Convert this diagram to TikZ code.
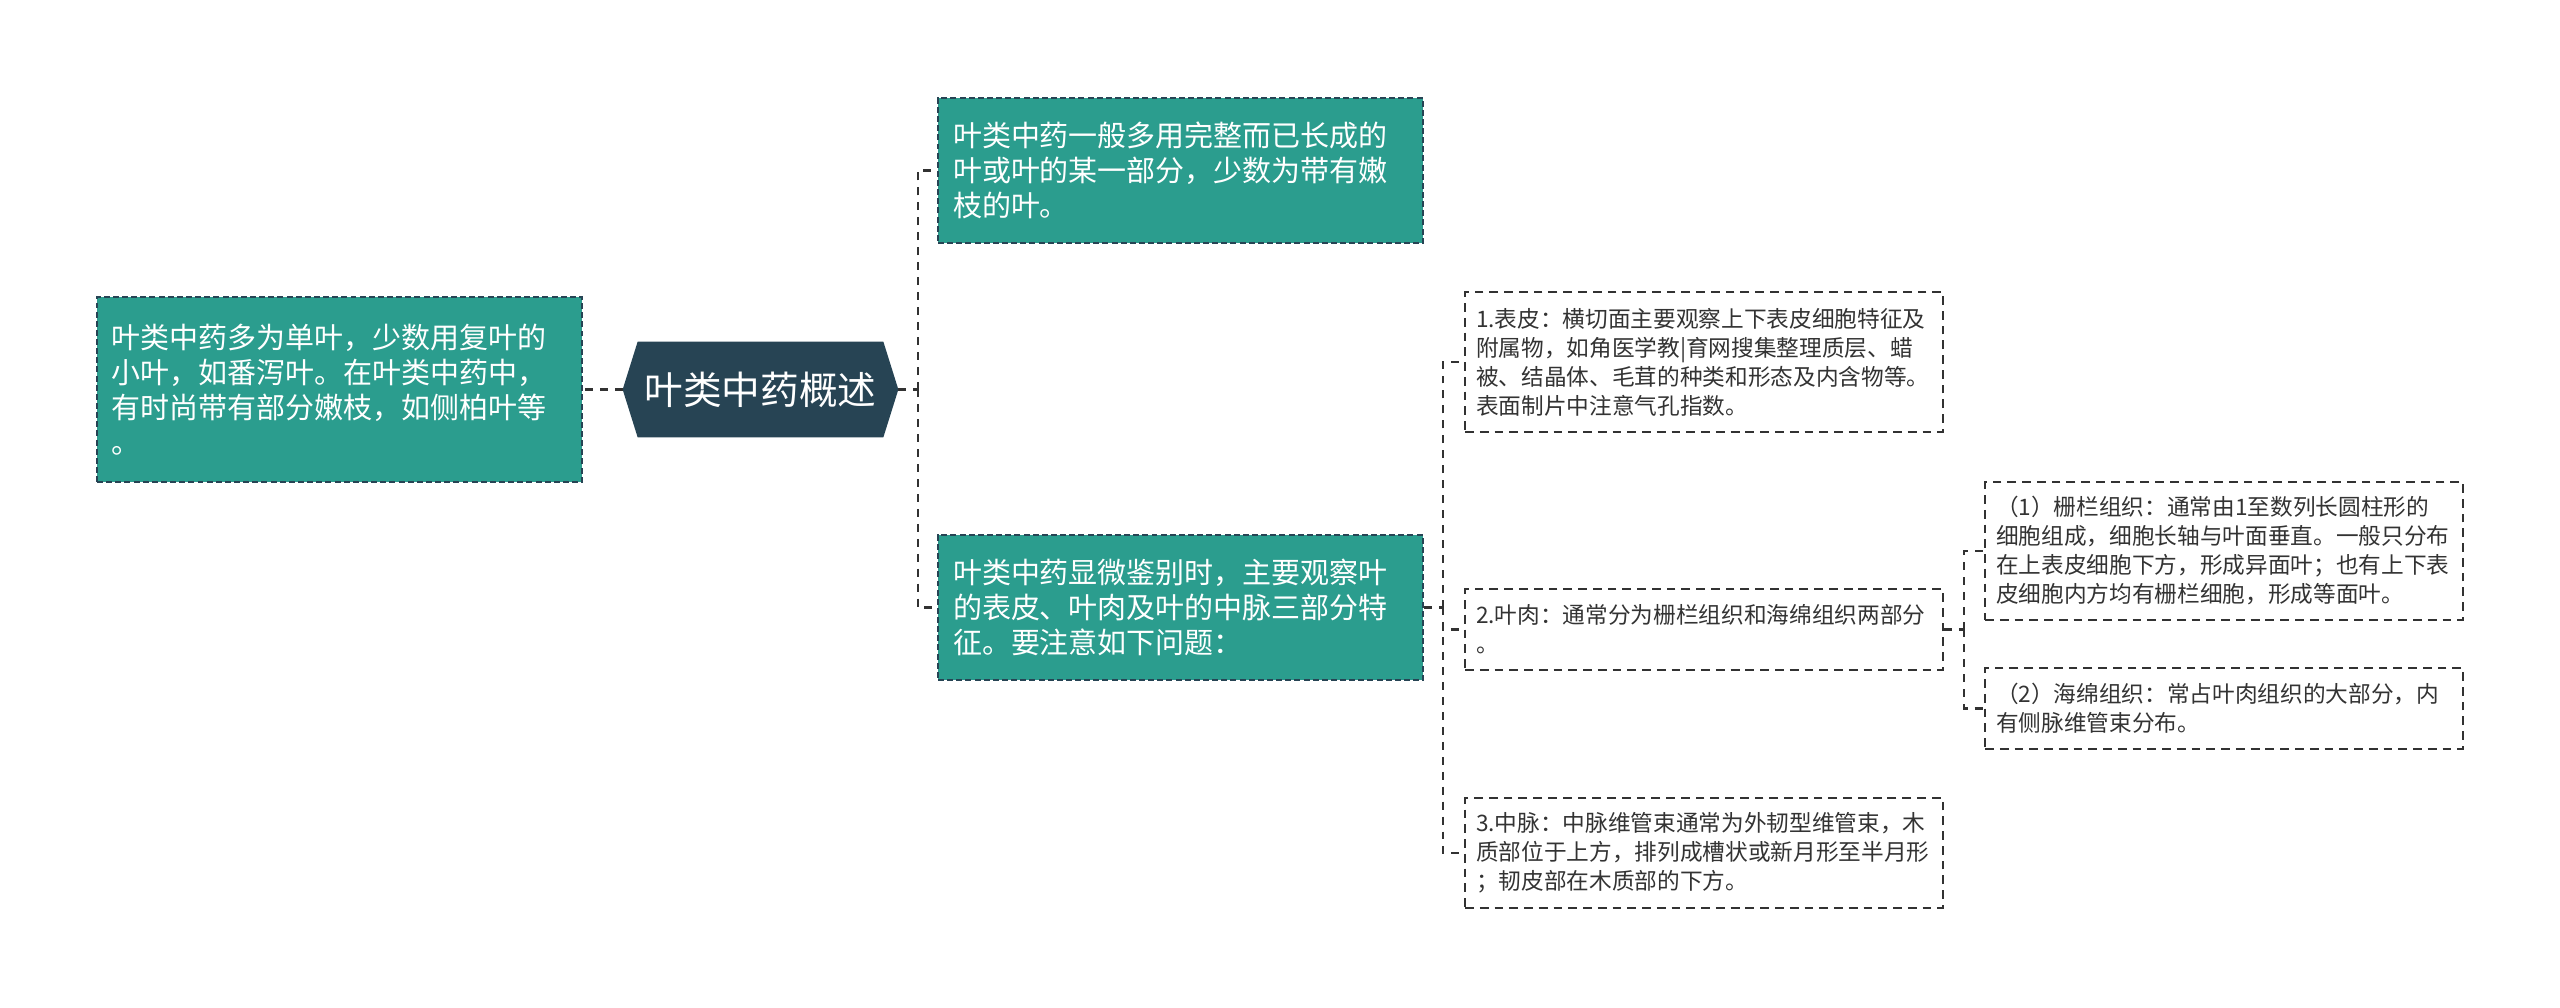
\documentclass[tikz,border=0pt]{standalone}
\usepackage{fontspec}
\setmainfont{Noto Sans CJK SC}
\usetikzlibrary{backgrounds}
\definecolor{leaf}{RGB}{43,157,142}
\definecolor{slate}{RGB}{39,68,84}
\definecolor{ink}{RGB}{51,51,51}
\definecolor{edge}{RGB}{50,50,50}
\begin{document}
\begin{tikzpicture}[
    link/.style={draw=edge, line width=1.2pt, dash pattern=on 4.5pt off 4pt},
    greenbox/.style={fill=leaf, draw=slate, line width=1.1pt, dash pattern=on 3.4pt off 1.8pt,
        text=white, align=left, inner xsep=0.3cm, inner ysep=0pt, text width=9.1cm,
        font=\fontsize{16.5pt}{19.9pt}\selectfont},
    notebox/.style={fill=white, draw=edge, line width=1.1pt, dash pattern=on 5pt off 3.4pt,
        text=ink, align=left, inner xsep=0.22cm, inner ysep=0pt, text width=9.12cm,
        font=\fontsize{12.9pt}{16.5pt}\selectfont},
    topic/.style={text=white, inner sep=0pt, minimum width=5.5cm, minimum height=1.9cm,
        font=\fontsize{22pt}{26pt}\selectfont}
]
    \useasboundingbox (0,0) rectangle (51.2,20.14);

    \node[topic] (root) at (15.21,12.35) {叶类中药概述};
    \begin{scope}[on background layer]
        \fill[slate] (root.west) -- ([xshift=0.3cm]root.north west) -- ([xshift=-0.3cm]root.north east)
            -- (root.east) -- ([xshift=-0.3cm]root.south east) -- ([xshift=0.3cm]root.south west) -- cycle;
    \end{scope}

    \node[greenbox, minimum height=3.7cm] (intro) at (6.79,12.35) {叶类中药多为单叶，少数用复叶的\\小叶，如番泻叶。在叶类中药中，\\有时尚带有部分嫩枝，如侧柏叶等\\。};
    \node[greenbox, minimum height=2.9cm] (whole) at (23.61,16.73) {叶类中药一般多用完整而已长成的\\叶或叶的某一部分，少数为带有嫩\\枝的叶。};
    \node[greenbox, minimum height=2.9cm] (micro) at (23.61,7.99) {叶类中药显微鉴别时，主要观察叶\\的表皮、叶肉及叶的中脉三部分特\\征。要注意如下问题：};

    \node[notebox, minimum height=2.8cm] (skin) at (34.08,12.90) {1.表皮：横切面主要观察上下表皮细胞特征及\\附属物，如角医学教|育网搜集整理质层、蜡\\被、结晶体、毛茸的种类和形态及内含物等。\\表面制片中注意气孔指数。};
    \node[notebox, minimum height=1.62cm] (flesh) at (34.08,7.55) {2.叶肉：通常分为栅栏组织和海绵组织两部分\\。};
    \node[notebox, minimum height=2.2cm] (vein) at (34.08,3.08) {3.中脉：中脉维管束通常为外韧型维管束，木\\质部位于上方，排列成槽状或新月形至半月形\\；韧皮部在木质部的下方。};

    \node[notebox, minimum height=2.76cm] (palisade) at (44.48,9.12) {（1）栅栏组织：通常由1至数列长圆柱形的\\细胞组成，细胞长轴与叶面垂直。一般只分布\\在上表皮细胞下方，形成异面叶；也有上下表\\皮细胞内方均有栅栏细胞，形成等面叶。};
    \node[notebox, minimum height=1.62cm] (sponge) at (44.48,5.97) {（2）海绵组织：常占叶肉组织的大部分，内\\有侧脉维管束分布。};

    \coordinate (rootfork) at (18.36,12.35);
    \coordinate (microfork) at (28.86,7.99);
    \coordinate (fleshfork) at (39.28,7.55);

    \draw[link] (root.west) -- (intro.east);
    \draw[link] (root.east) -- (rootfork);
    \draw[link] (rootfork) |- (whole.west);
    \draw[link] (rootfork) |- (micro.west);
    \draw[link] (micro.east) -- (microfork);
    \draw[link] (microfork) |- (skin.west);
    \draw[link] (microfork) |- (flesh.west);
    \draw[link] (microfork) |- (vein.west);
    \draw[link] (flesh.east) -- (fleshfork);
    \draw[link] (fleshfork) |- (palisade.west);
    \draw[link] (fleshfork) |- (sponge.west);
\end{tikzpicture}
\end{document}
